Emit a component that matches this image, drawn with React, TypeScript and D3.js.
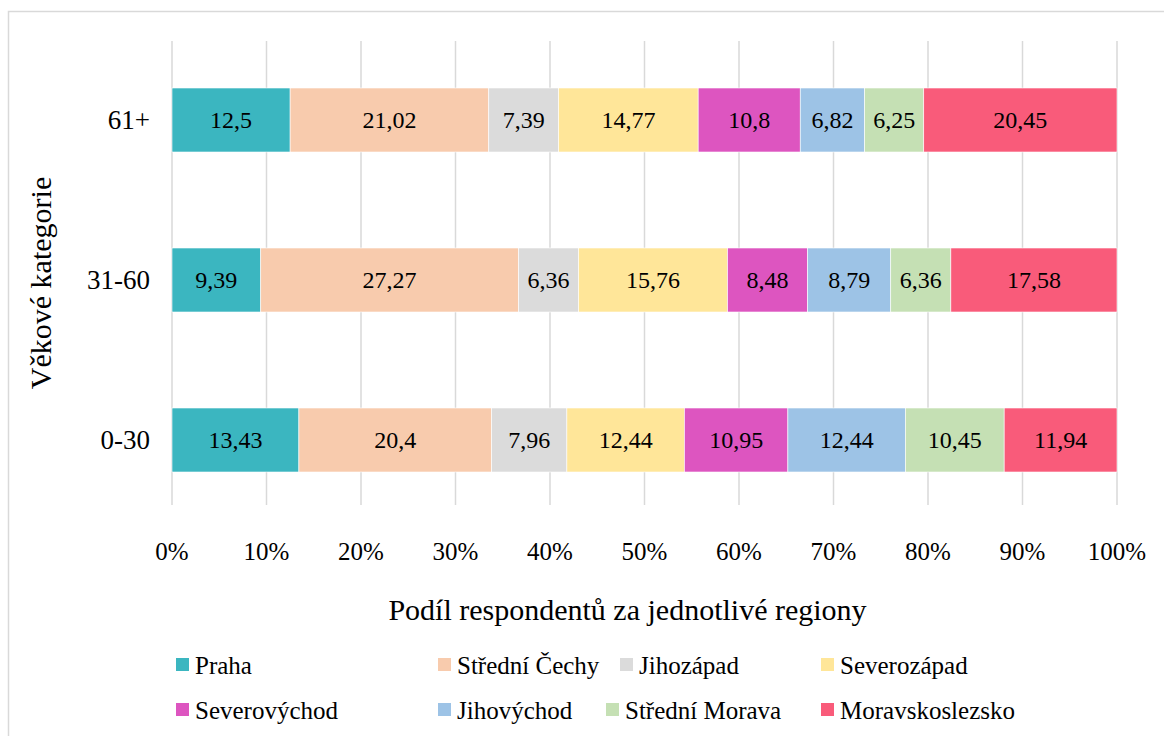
import React from 'react';
import * as d3 from 'd3';

const categories = ['61+', '31-60', '0-30'];
const regions = ['Praha', 'Střední Čechy', 'Jihozápad', 'Severozápad', 'Severovýchod', 'Jihovýchod', 'Střední Morava', 'Moravskoslezsko'];
const colors = ['#3BB6C0', '#F8CBAD', '#DBDBDB', '#FFE699', '#DD55C0', '#9DC3E6', '#C5E0B4', '#F95B7A'];
// values per region, in order of categories (61+, 31-60, 0-30)
const praha = [12.5, 9.39, 13.43];
const stredniCechy = [21.02, 27.27, 20.4];
const jihozapad = [7.39, 6.36, 7.96];
const severozapad = [14.77, 15.76, 12.44];
const severovychod = [10.8, 8.48, 10.95];
const jihovychod = [6.82, 8.79, 12.44];
const stredniMorava = [6.25, 6.36, 10.45];
const moravskoslezsko = [20.45, 17.58, 11.94];
const xTicks = [0, 0.1, 0.2, 0.3, 0.4, 0.5, 0.6, 0.7, 0.8, 0.9, 1];

const series = [praha, stredniCechy, jihozapad, severozapad, severovychod, jihovychod, stredniMorava, moravskoslezsko];
const font = "'Liberation Serif', Tinos, 'DejaVu Serif', serif";

export default function App() {
  const W = 1164, H = 736;
  const rows = categories.map((c, i) => {
    const r: any = { cat: c };
    regions.forEach((reg, j) => { r[reg] = series[j][i]; });
    return r;
  });
  const stacked = d3.stack<any>().keys(regions).offset(d3.stackOffsetExpand)(rows);

  const x = d3.scaleLinear().domain([0, 1]).range([172, 1117]);
  const y = d3.scaleBand().domain(categories).range([40, 520]).paddingInner(0.6).paddingOuter(0.3);

  const legendPos = [
    [176, 665], [438, 665], [620, 665], [821, 665],
    [176, 710], [438, 710], [606, 710], [821, 710],
  ];

  return (
    <svg width={W} height={H} style={{ display: 'block', position: 'absolute', left: 0, top: 0, fontFamily: font }}>
      <rect x={0} y={0} width={W} height={H} fill="#fff" />
      <rect x={8.5} y={11.5} width={1170} height={740} fill="none" stroke="#D9D9D9" strokeWidth={1.5} />
      {xTicks.map(t => (
        <line key={t} x1={x(t)} x2={x(t)} y1={41} y2={505} stroke="#D9D9D9" strokeWidth={1.5} />
      ))}
      {stacked.map((s, j) => (
        <g key={regions[j]}>
          {s.map((d, i) => {
            const x0 = x(d[0]), x1 = x(d[1]);
            const yy = y(categories[i])!;
            return (
              <g key={i}>
                <rect x={x0} y={yy} width={x1 - x0} height={y.bandwidth()} fill={colors[j]} stroke="#fff" strokeWidth={0.6} />
                <text x={(x0 + x1) / 2} y={yy + y.bandwidth() / 2} dy="0.35em" textAnchor="middle"
                  fontSize={24} fill="#000">
                  {String(series[j][i]).replace('.', ',')}
                </text>
              </g>
            );
          })}
        </g>
      ))}
      {categories.map(c => (
        <text key={c} x={150} y={y(c)! + y.bandwidth() / 2} dy="0.35em" textAnchor="end"
          fontSize={27} fill="#000">{c}</text>
      ))}
      {xTicks.map(t => (
        <text key={t} x={x(t)} y={551} dy="0.35em" textAnchor="middle" fontSize={25} fill="#000">
          {d3.format('.0%')(t)}
        </text>
      ))}
      <text x={x(0.5) - 17} y={609} dy="0.35em" textAnchor="middle" fontSize={30} fill="#000">
        Podíl respondentů za jednotlivé regiony
      </text>
      <text transform={`translate(40,283) rotate(-90)`} dy="0.35em" textAnchor="middle" fontSize={30} fill="#000">
        Věkové kategorie
      </text>
      {regions.map((r, j) => (
        <g key={r} transform={`translate(${legendPos[j][0]},${legendPos[j][1]})`}>
          <rect x={0} y={-7} width={13} height={13} fill={colors[j]} />
          <text x={19} y={0} dy="0.35em" fontSize={25} fill="#000">{r}</text>
        </g>
      ))}
    </svg>
  );
}
